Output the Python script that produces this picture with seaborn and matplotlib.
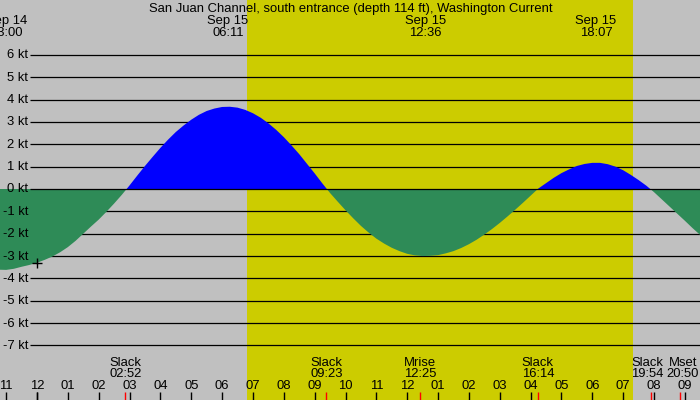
import matplotlib
matplotlib.use("Agg")
import numpy as np
import matplotlib.pyplot as plt
import seaborn as sns

# Style
sns.set_theme(style="white")
plt.rcParams['font.family'] = ['Liberation Sans', 'DejaVu Sans']
plt.rcParams['font.size'] = 9.4

# Data (hours from midnight Sep 15, current in knots)
title = "San Juan Channel, south entrance (depth 114 ft), Washington Current"
hours = [-1.5, -1.25, -1.0, -0.75, -0.5, -0.25, 0.0, 0.25, 0.5, 0.75,
         1.0, 1.25, 1.5, 1.75, 2.0, 2.25, 2.5, 2.75, 3.0, 3.25,
         3.5, 3.75, 4.0, 4.25, 4.5, 4.75, 5.0, 5.25, 5.5, 5.75,
         6.0, 6.25, 6.5, 6.75, 7.0, 7.25, 7.5, 7.75, 8.0, 8.25,
         8.5, 8.75, 9.0, 9.25, 9.5, 9.75, 10.0, 10.25, 10.5, 10.75,
         11.0, 11.25, 11.5, 11.75, 12.0, 12.25, 12.5, 12.75, 13.0, 13.25,
         13.5, 13.75, 14.0, 14.25, 14.5, 14.75, 15.0, 15.25, 15.5, 15.75,
         16.0, 16.25, 16.5, 16.75, 17.0, 17.25, 17.5, 17.75, 18.0, 18.25,
         18.5, 18.75, 19.0, 19.25, 19.5, 19.75, 20.0, 20.25, 20.5, 20.75,
         21.0, 21.25, 21.5]
speed = [-3.60, -3.61, -3.62, -3.57, -3.48, -3.40, -3.30, -3.17, -3.02, -2.83,
         -2.60, -2.32, -2.00, -1.68, -1.37, -1.02, -0.65, -0.26, 0.16, 0.60,
         1.03, 1.44, 1.84, 2.21, 2.55, 2.84, 3.10, 3.32, 3.49, 3.60,
         3.67, 3.68, 3.64, 3.54, 3.39, 3.19, 2.94, 2.65, 2.32, 1.95,
         1.56, 1.13, 0.70, 0.25, -0.18, -0.57, -0.95, -1.31, -1.65, -1.95,
         -2.22, -2.44, -2.63, -2.78, -2.90, -2.97, -3.00, -2.99, -2.96, -2.88,
         -2.78, -2.64, -2.47, -2.27, -2.04, -1.79, -1.52, -1.23, -0.93, -0.62,
         -0.30, 0.02, 0.26, 0.50, 0.71, 0.88, 1.03, 1.12, 1.17, 1.17,
         1.11, 1.00, 0.84, 0.63, 0.40, 0.15, -0.14, -0.46, -0.78, -1.10,
         -1.42, -1.75, -2.06]
grid_kt = [6, 5, 4, 3, 2, 1, 0, -1, -2, -3, -4, -5, -6, -7]

peak_days = ["Sep 14", "Sep 15", "Sep 15", "Sep 15"]
peak_times = ["23:00", "06:11", "12:36", "18:07"]
event_names = ["Slack", "Slack", "Mrise", "Slack", "Slack", "Mset"]
event_times = ["02:52", "09:23", "12:25", "16:14", "19:54", "20:50"]
sunrise = "06:48"
sunset = "19:19"
hour_ticks = list(range(-1, 22))
marker_hour = 0.0

# Colours
bg_gray = '#c0c0c0'
day_yellow = '#cccc00'
flood_blue = '#0000ff'
ebb_green = '#2e8b57'

# Pixel layout of the original picture
MID_PX = 37.0       # x pixel of midnight
PX_PER_H = 30.85
ZERO_PX = 189.0     # y pixel of 0 kt
PX_PER_KT = 22.35
# small sideways nudges (px) so the last two event labels don't collide
event_nudge = [0, 0, 0, 0, -4, 3]


def hx(xpx):
    return (xpx - MID_PX) / PX_PER_H


def ky(ypx):
    return (ZERO_PX - ypx) / PX_PER_KT


def clock(s, day="Sep 15"):
    h, m = s.split(':')
    off = -24 if day == "Sep 14" else 0
    return int(h) + int(m) / 60 + off


fig = plt.figure(figsize=(7, 4), dpi=100, facecolor=bg_gray)
ax = fig.add_axes([0, 0, 1, 1])
ax.set_axis_off()

# Daylight band
ax.axvspan(clock(sunrise), clock(sunset), color=day_yellow, lw=0, zorder=0)

# Grid lines
for k in grid_kt:
    ax.hlines(k, hx(30), hx(700), color='black', lw=0.9, zorder=4 if k == 0 else 1)

# Current curve
t = np.array(hours)
v = np.array(speed)
ax.fill_between(t, v, 0, where=v >= 0, interpolate=True, color=flood_blue, lw=0, zorder=2)
ax.fill_between(t, v, 0, where=v <= 0, interpolate=True, color=ebb_green, lw=0, zorder=2)

# Marker on the curve
ax.plot(marker_hour, speed[hours.index(marker_hour)], marker='+', ms=6.5, mew=1,
        color='black', zorder=5)

# Y labels
for k in grid_kt:
    ax.text(hx(28), k - 3.5 / PX_PER_KT, f"{k} kt", ha='right', va='baseline',
            color='black', zorder=6)

# Title and max / min labels
ax.text(hx(350.5), ky(12), title, ha='center', va='baseline', color='black')
for day, tm in zip(peak_days, peak_times):
    x = clock(tm, day)
    ax.text(x, ky(24), day, ha='center', va='baseline', color='black')
    ax.text(x, ky(35.7), tm, ha='center', va='baseline', color='black')

# Slack and moon events
for name, tm, dx in zip(event_names, event_times, event_nudge):
    x = clock(tm) + dx / PX_PER_H
    ax.text(x, ky(366), name, ha='center', va='baseline', color='black')
    ax.text(x, ky(377.3), tm, ha='center', va='baseline', color='black')

# Hour labels
for h in hour_ticks:
    c = h % 24
    lab = f"{(c % 12) or 12:02d}"
    ax.text(h, ky(389.3), lab, ha='center', va='baseline', color='black')

# Tick marks along the bottom
tick_h = 8.3 / 400
sns.rugplot(x=hour_ticks, ax=ax, height=tick_h, color='black', lw=1, expand_margins=False)
sns.rugplot(x=[0], ax=ax, height=tick_h, color='black', lw=3, expand_margins=False)
sns.rugplot(x=[clock(tm) for tm in event_times], ax=ax, height=tick_h, color='red',
            lw=1, expand_margins=False)

ax.set_xlim(hx(0), hx(700))
ax.set_ylim(ky(400), ky(0))

fig.savefig('out.png', dpi=100, facecolor=bg_gray)
plt.close(fig)
